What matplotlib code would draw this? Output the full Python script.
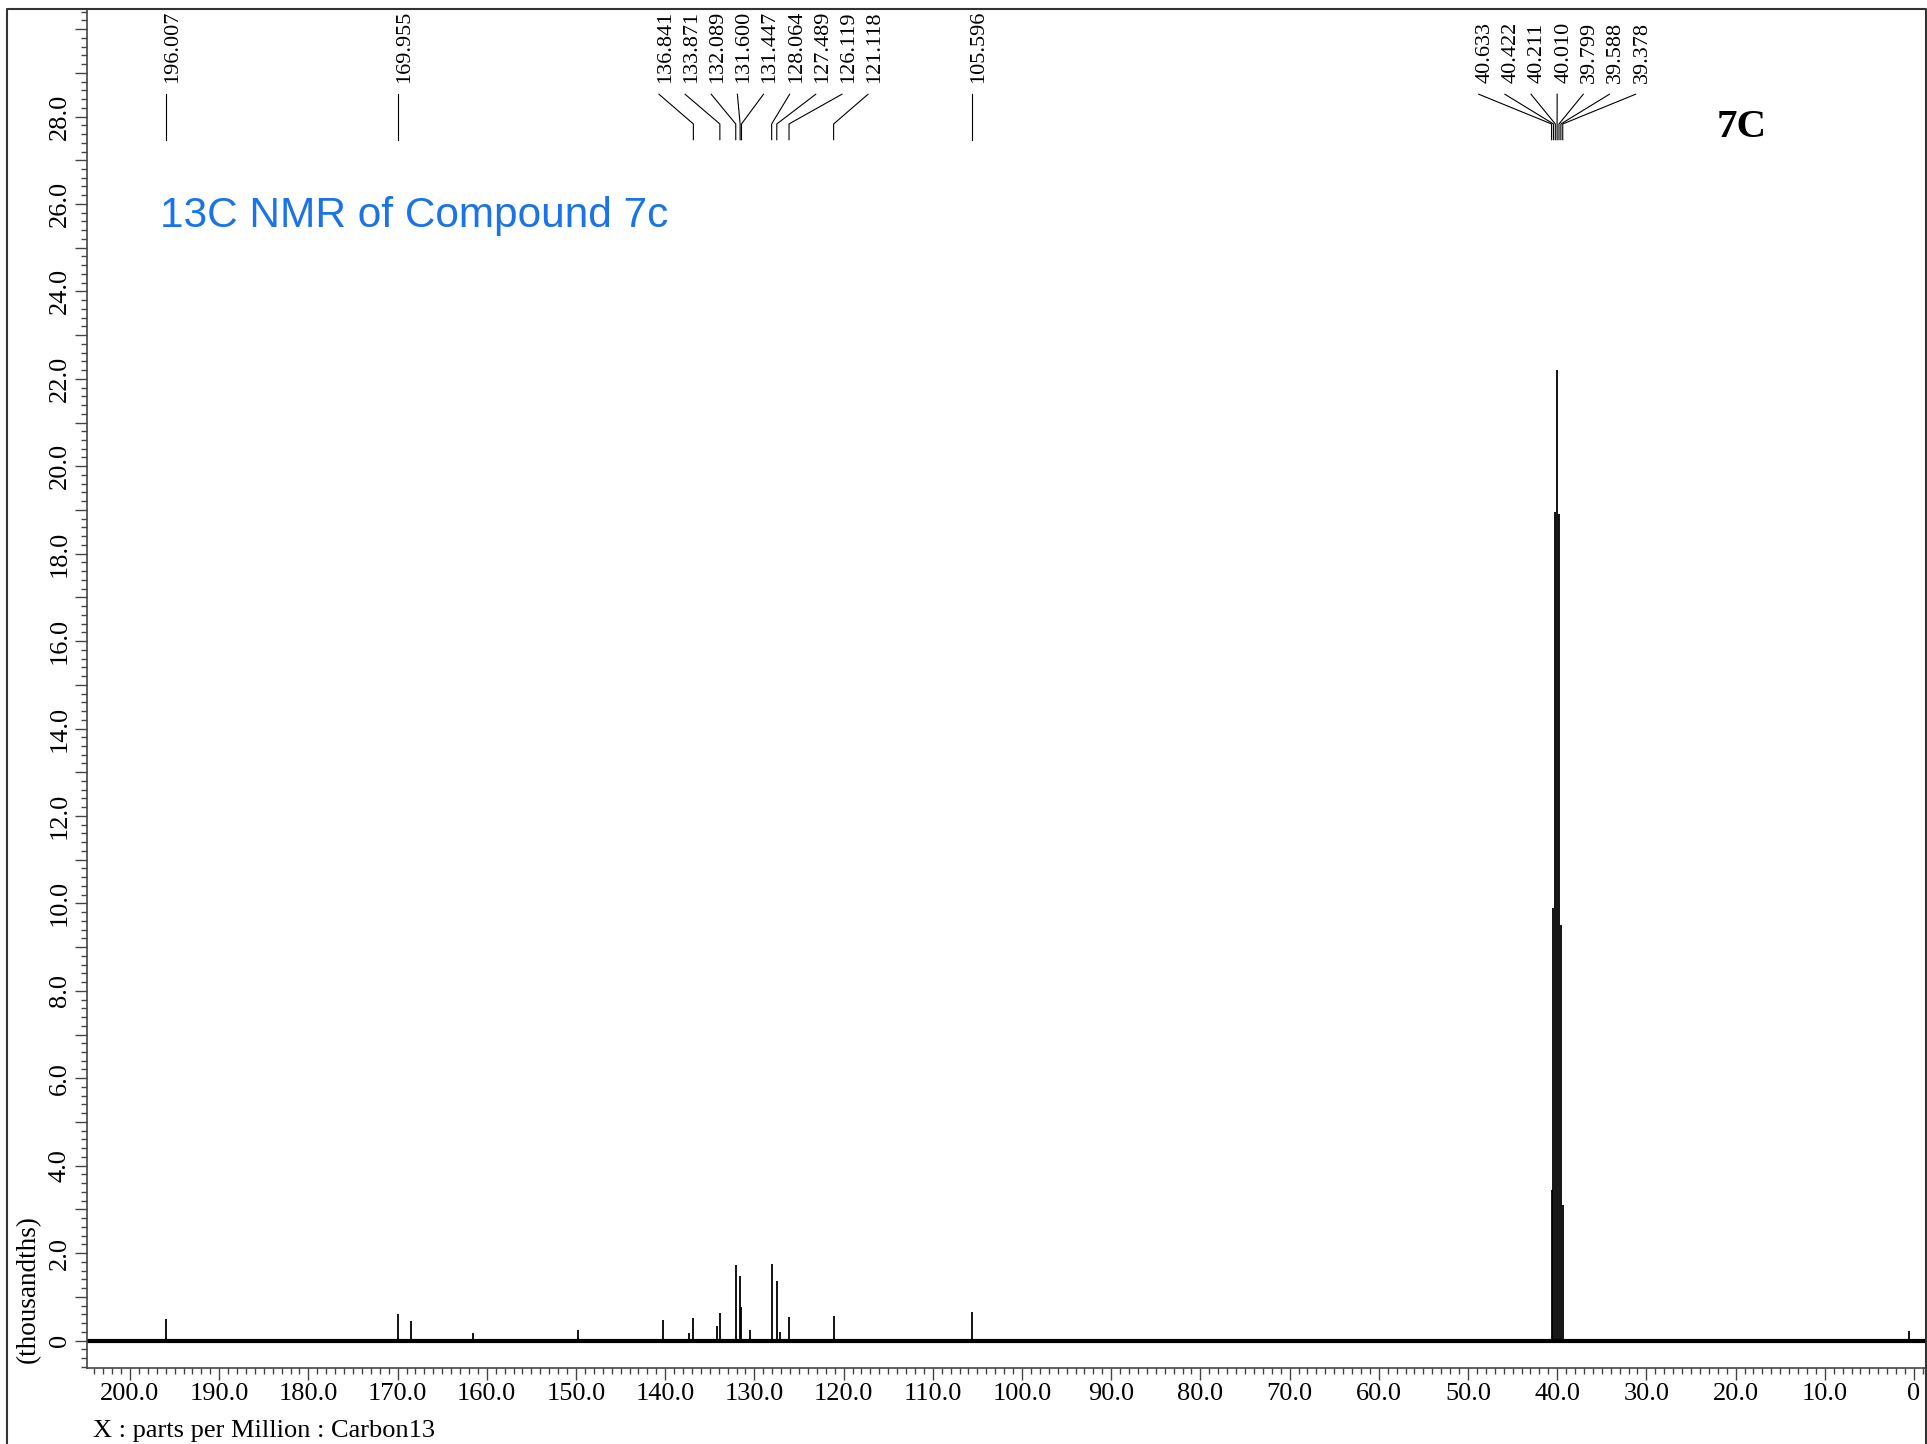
import matplotlib
matplotlib.use('Agg')
import matplotlib.pyplot as plt
from matplotlib.lines import Line2D

# labelled peaks: chemical shift (ppm) and height (thousandths)
peak_ppm = [196.007, 169.955, 136.841, 133.871, 132.089, 131.600, 131.447,
            128.064, 127.489, 126.119, 121.118, 105.596,
            40.633, 40.422, 40.211, 40.010, 39.799, 39.588, 39.378]
peak_height = [0.50, 0.60, 0.51, 0.63, 1.72, 1.48, 0.76,
               1.76, 1.37, 0.53, 0.55, 0.66,
               3.45, 9.90, 18.95, 22.20, 18.90, 9.50, 3.10]

# small peaks without a label
small_ppm = [168.5, 161.5, 149.8, 140.3, 137.3, 134.2, 130.5, 127.1, 0.6]
small_height = [0.45, 0.18, 0.25, 0.46, 0.17, 0.33, 0.25, 0.20, 0.21]

x_ticks = list(range(0, 201, 10))
y_ticks = list(range(0, 31))
y_labelled = list(range(0, 29, 2))

title = '13C NMR of Compound 7c'
sample = '7C'
x_title = 'X : parts per Million : Carbon13'
y_title = '(thousandths)'

W, H = 1927, 1444
serif = 'Liberation Serif'


# spread the labels of close peaks so they do not overlap
def spread_labels(ppms, gap):
    groups = [[p] for p in sorted(ppms, reverse=True)]

    def place(g):
        mid = (g[0] + g[-1]) / 2
        n = len(g)
        return [mid + ((n - 1) / 2 - i) * gap for i in range(n)]

    merged = True
    while merged:
        merged = False
        for i in range(len(groups) - 1):
            if place(groups[i])[-1] - place(groups[i + 1])[0] < gap:
                groups[i] = groups[i] + groups.pop(i + 1)
                merged = True
                break
    out = []
    for g in groups:
        out += list(zip(g, place(g)))
    return out


def tick_text(v):
    return '0' if v == 0 else '%.1f' % v


fig = plt.figure(figsize=(W / 100, H / 100), dpi=100)
ax = fig.add_axes([87 / W, (H - 1368) / H, (1925.5 - 87) / W, (1368 - 9) / H])
ax.set_xlim(204.82, -1.29)
ax.set_ylim(-0.629, 30.46)

# baseline and peaks
ax.axhline(0, color='black', lw=3, solid_capstyle='butt', zorder=2)
ax.vlines(peak_ppm, 0, peak_height, color='black', lw=1.3, zorder=3)
ax.vlines(small_ppm, 0, small_height, color='black', lw=1.3, zorder=3)

# peak labels with their connecting lines
for p, lp in spread_labels(peak_ppm, 2.93):
    ax.plot([lp, p, p], [28.51, 27.83, 27.47], color='black', lw=0.8)
    ax.text(lp - 0.73, 28.76, '%.3f' % p, rotation=90, ha='center', va='bottom',
            fontsize=16, family=serif)

# axes styling
for s in ['top', 'right']:
    ax.spines[s].set_visible(False)
for s in ['left', 'bottom']:
    ax.spines[s].set_color('#444444')
    ax.spines[s].set_linewidth(1.2)

ax.set_xticks(x_ticks, [tick_text(v) for v in x_ticks])
ax.set_xticks([v for v in range(-1, 205)], minor=True)
ax.set_yticks(y_ticks, [tick_text(v) if v in y_labelled else '' for v in y_ticks])
ax.set_yticks([i * 0.2 for i in range(-3, 153)], minor=True)
ax.tick_params(which='both', direction='out', color='#444444', width=1.0)
ax.tick_params(which='major', length=8.6, labelsize=19)
ax.tick_params(which='minor', length=4.3)
ax.tick_params(axis='x', pad=2)
ax.tick_params(axis='y', pad=3)
for lab in ax.get_xticklabels() + ax.get_yticklabels():
    lab.set_family(serif)
for lab in ax.get_yticklabels():
    lab.set_rotation(90)
    lab.set_va('center')

# texts
fig.text(160 / W, 1 - 227 / H, title, color='#1a73e8', fontsize=30.5,
         family='Liberation Sans', ha='left', va='baseline')
fig.text(1717 / W, 1 - 137 / H, sample, fontsize=29.5, fontweight='bold',
         family=serif, ha='left', va='baseline')
fig.text(93 / W, 7 / H, x_title, fontsize=19, family=serif, ha='left', va='baseline')
fig.text(28 / W, 1 - 1289 / H, y_title, fontsize=19.5, family=serif, rotation=90,
         ha='center', va='center')

# outer frame
fig.add_artist(Line2D([7 / W, 7 / W, 1925.5 / W, 1925.5 / W], [0, 1 - 9 / H, 1 - 9 / H, 0],
                      color='#333333', lw=1.5, transform=fig.transFigure))

fig.savefig('out.png', dpi=100)
